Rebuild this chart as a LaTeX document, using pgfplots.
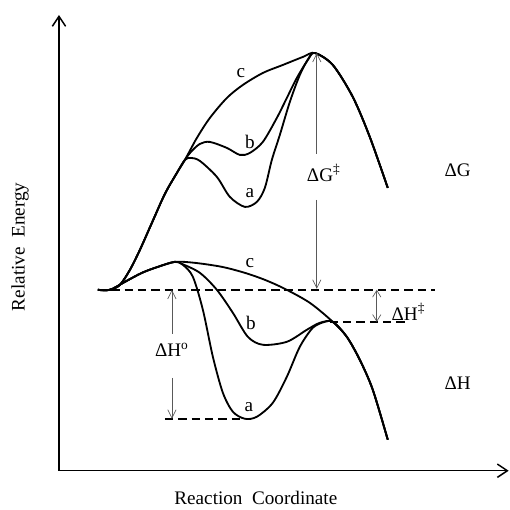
\documentclass[border=0pt]{standalone}
\usepackage{fontspec}
\setmainfont{Liberation Serif}
\usepackage{pgfplots}
\pgfplotsset{compat=1.18}
\usetikzlibrary{arrows.meta}
\newcommand{\lbl}{\fontsize{11.5}{13}\selectfont}
\begin{document}
\begin{tikzpicture}
\begin{axis}[
  x=0.6pt, y=0.6pt,
  xmin=59, xmax=509, ymin=35, ymax=491,
  axis lines=left,
  axis line style={line width=0.9pt, -{Straight Barb[length=6pt,width=8pt]}},
  xtick=\empty, ytick=\empty,
  clip=false,
  xlabel={Reaction\ \ Coordinate}, ylabel={Relative\ \ Energy},
  every axis x label/.style={at={(axis cs:256,8)},anchor=center,font=\lbl},
  every axis y label/.style={at={(axis cs:20,259)},anchor=center,rotate=90,font=\lbl},
  curve/.style={black, line width=1.1pt, smooth, tension=0.5, no marks},
  dash/.style={black, line width=0.9pt, dash pattern=on 5pt off 3pt, no marks},
  thinarrow/.style={gray!70!black, line width=0.4pt, no marks, -{Straight Barb[length=5pt,width=5pt]}},
]
% ---- Delta G curves (y = 506 - pixel row) ----
% c
\addplot[curve] coordinates {(98,216) (110,216) (120,221) (130,236) (140,256) (152,283) (165,312) (177,333) (185,346)
  (197,368) (210,388) (227,408) (243,421) (263,433) (283,441) (303,449) (315,453) (333,441) (353,409) (370,369) (388,318)};
% b
\addplot[curve] coordinates {(98,216) (110,216) (120,221) (130,236) (140,256) (152,283) (165,312) (177,333) (185,346)
  (191,354) (200,362) (210,364) (227,358) (240,351) (250,353) (263,364) (277,388) (287,408) (297,428) (308,446) (315,453) (333,441) (353,409) (370,369) (388,318)};
% a
\addplot[curve] coordinates {(98,216) (110,216) (120,221) (130,236) (140,256) (152,283) (165,312) (177,333) (185,346)
  (191,348) (200,345) (217,329) (230,309) (245,299) (257,304) (265,318) (272,346) (280,371) (290,404) (300,431) (309,448) (315,453) (333,441) (353,409) (370,369) (388,318)};
% ---- Delta H curves ----
% c
\addplot[curve] coordinates {(98,216) (110,216) (125,224) (142,233) (158,239) (175,244)
  (195,243) (222,239) (245,233) (265,226) (285,217) (310,203) (333,184) (347,169) (360,146) (373,116) (388,66)};
% b
\addplot[curve] coordinates {(98,216) (110,216) (125,224) (142,233) (158,239) (175,244)
  (182,242) (200,233) (217,216) (233,193) (248,169) (263,161) (287,164) (307,176) (320,183) (333,184) (347,169) (360,146) (373,116) (388,66)};
% a
\addplot[curve] coordinates {(98,216) (110,216) (125,224) (142,233) (158,239) (175,244)
  (183,241) (193,229) (203,196) (213,149) (223,113) (233,94) (245,87) (257,89) (273,103) (287,129) (300,159) (313,178) (325,184) (333,184) (347,169) (360,146) (373,116) (388,66)};
% ---- dashed reference levels ----
\addplot[dash] coordinates {(98,216) (435,216)};
\addplot[dash] coordinates {(330,184) (408,184)};
\addplot[dash] coordinates {(165,87) (245,87)};
% ---- arrows ----
\addplot[thinarrow] coordinates {(317,352) (317,453)};
\addplot[thinarrow] coordinates {(317,306) (317,217)};
\addplot[thinarrow] coordinates {(172,172) (172,216)};
\addplot[thinarrow] coordinates {(172,128) (172,87)};
\addplot[thinarrow, {Straight Barb[length=4pt,width=5pt]}-{Straight Barb[length=4pt,width=5pt]}] coordinates {(377,216) (377,184)};
% ---- labels ----
\node[font=\lbl] at (axis cs:241,433) {c};
\node[font=\lbl] at (axis cs:250,364) {b};
\node[font=\lbl] at (axis cs:250,313) {a};
\node[font=\lbl] at (axis cs:250,243) {c};
\node[font=\lbl] at (axis cs:251,183) {b};
\node[font=\lbl] at (axis cs:249,99) {a};
\node[font=\lbl] at (axis cs:324,333) {ΔG\textsuperscript{‡}};
\node[font=\lbl] at (axis cs:172,156) {ΔH\textsuperscript{o}};
\node[font=\lbl, anchor=west] at (axis cs:386,194) {ΔH\textsuperscript{‡}};
\node[font=\lbl] at (axis cs:458,336) {ΔG};
\node[font=\lbl] at (axis cs:458,123) {ΔH};
\coordinate (ll) at (axis cs:0,0);
\coordinate (ur) at (axis cs:510,506);
\end{axis}
\path[use as bounding box] (ll) rectangle (ur);
\end{tikzpicture}
\end{document}
